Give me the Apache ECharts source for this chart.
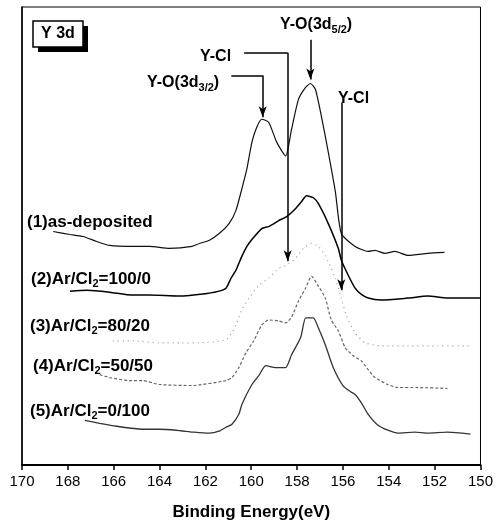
<!DOCTYPE html>
<html>
<head>
<meta charset="utf-8">
<script src="https://cdn.jsdelivr.net/npm/echarts@6/dist/echarts.min.js"></script>
<style>
  html, body { margin: 0; padding: 0; background: #fff; }
  #chart { width: 496px; height: 526px; }
</style>
</head>
<body>
<div id="chart"></div>
<script>
// binding energy (eV) and intensity (a.u., offset per spectrum)
const asDepE = [168.64,167.91,167.34,166.74,166.17,165.18,164.44,163.57,162.58,162.26,161.84,161.40,160.97,160.67,160.41,160.19,159.97,159.76,159.54,159.24,158.89,158.50,158.24,157.94,157.63,157.42,157.20,156.94,156.64,156.33,156.07,155.47,154.90,154.60,154.17,153.73,153.17,152.30,151.57];
const asDepV = [235,232,230,225,221,220,220,218,220,223,226,233,243,256,278,298,325,340,348,345,325,311,338,368,380,384,378,351,315,275,233,220,215,216,213,215,211,213,214];

const ar100E = [167.91,167.17,166.17,165.18,164.44,163.14,161.84,161.40,161.10,160.88,160.67,160.41,160.19,159.97,159.54,159.24,158.80,158.46,158.07,157.81,157.59,157.29,157.07,156.64,156.20,156.07,155.77,155.47,155.21,154.90,154.34,153.17,152.30,151.44,150.88,150.00];
const ar100V = [175,176,174,171,171,170,173,175,178,188,196,210,220,227,238,240,246,250,258,265,271,269,263,243,218,206,191,178,172,168,166,168,170,168,168,168];

const ar80E = [166.04,165.18,164.01,163.01,162.27,161.10,160.84,160.67,160.41,160.10,159.67,159.24,158.80,158.46,158.07,157.72,157.37,157.07,156.77,156.51,156.33,156.07,155.86,155.47,155.03,154.34,153.17,151.87,150.44];
const ar80V = [125,125,123,123,123,126,133,141,156,168,181,188,198,201,208,218,223,220,211,198,188,168,151,133,123,120,120,120,120];

const ar50E = [166.61,166.17,165.31,164.74,164.01,162.58,161.10,160.84,160.54,160.23,159.89,159.54,159.24,158.80,158.50,158.24,157.94,157.63,157.37,157.07,156.77,156.51,156.20,155.90,155.55,155.21,154.90,154.60,154.04,153.60,152.73,151.44];
const ar50V = [91,88,85,85,81,80,85,88,98,113,125,141,146,145,143,149,165,178,190,180,168,146,135,118,110,105,96,88,81,78,78,77];

const ar0E = [167.26,166.61,165.87,164.74,164.01,163.27,162.49,161.84,161.40,161.10,160.84,160.54,160.41,159.97,159.67,159.37,158.93,158.50,158.24,157.85,157.63,157.46,157.29,157.07,156.77,156.42,156.00,155.68,155.47,155.21,154.90,154.47,154.04,153.60,152.87,152.30,151.44,150.44];
const ar0V = [45,42,39,36,36,35,33,32,34,38,41,51,61,81,90,100,98,98,111,128,148,148,148,138,121,98,80,74,71,63,51,40,35,32,33,32,33,31];

// peak markers: energy, start height, arrow tip height
const arrowE   = [157.42, 158.41, 159.50, 156.07];
const arrowTop = [428, 415, 392, 365];
const arrowTip = [388, 205, 350, 176];
// horizontal leader lines: from energy -> to energy at height
const leaderFrom = [160.31, 160.87];
const leaderTo   = [158.41, 159.50];
const leaderY    = [415, 392];

const FONT = 'Liberation Sans, Arial, sans-serif';

function zip(xs, ys) {
    let out = [];
    for (let i = 0; i < xs.length; i++) out.push([xs[i], ys[i]]);
    return out;
}

let marks = [];
for (let i = 0; i < arrowE.length; i++) {
    marks.push([
        { coord: [arrowE[i], arrowTop[i]], symbol: 'none' },
        { coord: [arrowE[i], arrowTip[i]], symbol: 'arrow', symbolSize: [6, 11] }
    ]);
}
for (let i = 0; i < leaderFrom.length; i++) {
    marks.push([
        { coord: [leaderFrom[i], leaderY[i]], symbol: 'none' },
        { coord: [leaderTo[i], leaderY[i]], symbol: 'none' }
    ]);
}

function richFor(size, subSize) {
    return {
        s: { fontSize: subSize, fontWeight: 'bold', fontFamily: FONT, color: '#000', verticalAlign: 'bottom', lineHeight: 10 },
        n: { fontSize: size, fontWeight: 'bold', fontFamily: FONT, color: '#000', lineHeight: 20 }
    };
}

function label(x, y, txt, size, subSize) {
    return {
        type: 'text', left: x, top: y,
        style: { text: txt, rich: richFor(size, subSize), font: 'bold ' + size + 'px ' + FONT, fill: '#000' }
    };
}

const chart = echarts.init(document.getElementById('chart'), null, { renderer: 'canvas' });

const option = {
    animation: false,
    backgroundColor: '#fff',
    grid: { left: 22, right: 13, top: 7, bottom: 58, show: true, borderColor: '#000', borderWidth: 1 },
    xAxis: {
        type: 'value', min: 150, max: 170, interval: 2, inverse: true,
        name: 'Binding Energy(eV)', nameLocation: 'middle', nameGap: 39,
        nameTextStyle: { fontFamily: FONT, fontWeight: 'bold', fontSize: 17, color: '#000' },
        axisLine: { lineStyle: { color: '#000', width: 2 } },
        axisTick: { inside: false, length: 5, lineStyle: { color: '#000', width: 1.5 } },
        axisLabel: { fontFamily: FONT, fontSize: 15, color: '#000', margin: 9 },
        splitLine: { show: false }
    },
    yAxis: {
        type: 'value', min: 0, max: 461,
        axisLine: { show: true, lineStyle: { color: '#000', width: 1.5 } },
        axisTick: { show: false }, axisLabel: { show: false }, splitLine: { show: false }
    },
    series: [
        { name: '(1)', type: 'line', data: zip(asDepE, asDepV), symbol: 'none', smooth: 0.2,
          lineStyle: { color: '#111', width: 1.2 } },
        { name: '(2)', type: 'line', data: zip(ar100E, ar100V), symbol: 'none', smooth: 0.2,
          lineStyle: { color: '#000', width: 1.5 } },
        { name: '(3)', type: 'line', data: zip(ar80E, ar80V), symbol: 'none', smooth: 0.2,
          lineStyle: { color: '#999', width: 1.2, type: [1, 4] } },
        { name: '(4)', type: 'line', data: zip(ar50E, ar50V), symbol: 'none', smooth: 0.2,
          lineStyle: { color: '#666', width: 1.2, type: [3, 2] } },
        { name: '(5)', type: 'line', data: zip(ar0E, ar0V), symbol: 'none', smooth: 0.2,
          lineStyle: { color: '#333', width: 1.3 } },
        { name: 'peaks', type: 'line', data: [], symbol: 'none',
          markLine: { silent: true, animation: false, label: { show: false },
                      lineStyle: { color: '#000', width: 1.5, type: 'solid' }, data: marks } }
    ],
    graphic: [
        { type: 'rect', shape: { x: 38, y: 26, width: 50, height: 26 }, style: { fill: '#000' } },
        { type: 'rect', shape: { x: 33, y: 21, width: 50, height: 26 }, style: { fill: '#fff', stroke: '#000', lineWidth: 1.5 } },
        { type: 'text', x: 58, y: 34, style: { text: 'Y 3d', font: 'bold 16px ' + FONT, fill: '#000', align: 'center', verticalAlign: 'middle' } },
        label(280, 17, '{n|Y-O(3d}{s|5/2}{n|)}', 16, 11),
        label(200, 49, '{n|Y-Cl}', 16, 11),
        label(147, 75, '{n|Y-O(3d}{s|3/2}{n|)}', 16, 11),
        label(338, 91, '{n|Y-Cl}', 16, 11),
        label(27, 214, '{n|(1)as-deposited}', 17, 11),
        label(31, 271, '{n|(2)Ar/Cl}{s|2}{n|=100/0}', 17, 11),
        label(30, 318, '{n|(3)Ar/Cl}{s|2}{n|=80/20}', 17, 11),
        label(33, 358, '{n|(4)Ar/Cl}{s|2}{n|=50/50}', 17, 11),
        label(30, 403, '{n|(5)Ar/Cl}{s|2}{n|=0/100}', 17, 11)
    ]
};

chart.setOption(option);
</script>
</body>
</html>
